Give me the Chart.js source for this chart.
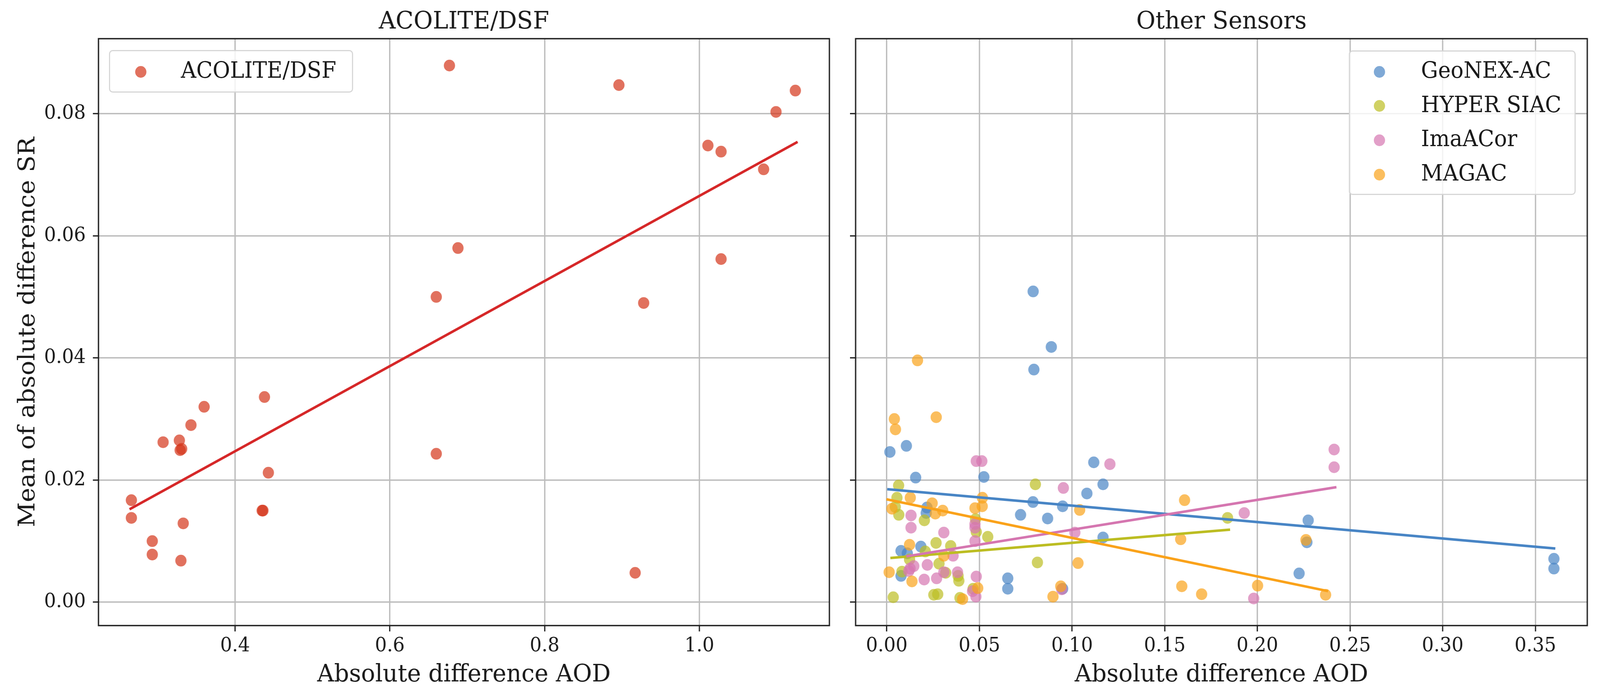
<!DOCTYPE html>
<html>
<head>
<meta charset="utf-8">
<script src="https://cdn.jsdelivr.net/npm/chart.js@4.4.1/dist/chart.umd.min.js"></script>
<style>
  html, body { margin: 0; padding: 0; background: #fff; overflow: hidden; }
  #wrap { position: relative; width: 4273px; height: 1771px; overflow: hidden; background: #fff; transform-origin: 0 0; }
  canvas { position: absolute; top: 0; }
  .legend-box {
    position: absolute; box-sizing: border-box;
    border: 3.5px solid rgba(204, 204, 204, 0.8); border-radius: 10px;
    background: rgba(255, 255, 255, 0.8);
  }
  .legend-dot { position: absolute; width: 30px; height: 30px; border-radius: 50%; }
  .legend-label {
    position: absolute; white-space: nowrap; line-height: 1;
    font-family: 'DejaVu Serif', serif; font-size: 57px; color: #1a1a1a;
  }
</style>
</head>
<body>
<div id="wrap">
  <canvas id="acoliteChart" width="2250" height="1771" style="left:0"></canvas>
  <canvas id="sensorChart" width="2023" height="1771" style="left:2250px"></canvas>
</div>
<script>
// ---- data ----
const srTicks = [0.00, 0.02, 0.04, 0.06, 0.08];
const acoliteAodTicks = [0.4, 0.6, 0.8, 1.0];
const sensorAodTicks = [0.00, 0.05, 0.10, 0.15, 0.20, 0.25, 0.30, 0.35];

const srRange = [-0.00384, 0.0923];
const acoliteAodRange = [0.2235, 1.168];
const sensorAodRange = [-0.0168, 0.378];

// ACOLITE/DSF
const acoliteAod = [0.677, 0.896, 1.124, 1.099, 1.011, 1.028, 1.083, 0.688, 1.028, 0.660,
  0.928, 0.438, 0.360, 0.343, 0.307, 0.328, 0.329, 0.331, 0.660, 0.443,
  0.266, 0.266, 0.435, 0.436, 0.333, 0.293, 0.293, 0.330, 0.917];
const acoliteSr = [0.0879, 0.0847, 0.0838, 0.0803, 0.0748, 0.0738, 0.0709, 0.0580, 0.0562, 0.0500,
  0.0490, 0.0336, 0.0320, 0.0290, 0.0262, 0.0265, 0.0249, 0.0251, 0.0243, 0.0212,
  0.0167, 0.0138, 0.0150, 0.0150, 0.0129, 0.0100, 0.0078, 0.0068, 0.0048];
const acoliteFitAod = [0.265, 1.1255];
const acoliteFitSr = [0.0153, 0.0753];

// GeoNEX-AC
const geonexAod = [0.0017, 0.0106, 0.0156, 0.0524, 0.0789, 0.0949, 0.0217, 0.0213, 0.0722, 0.0868,
  0.0184, 0.0077, 0.0111, 0.0077, 0.0653, 0.0653, 0.0949, 0.0888, 0.0794, 0.0790,
  0.1117, 0.1167, 0.1080, 0.1167, 0.2274, 0.2267, 0.2225, 0.3600, 0.3600];
const geonexSr = [0.0246, 0.0256, 0.0204, 0.0205, 0.0164, 0.0157, 0.0155, 0.0146, 0.0143, 0.0137,
  0.0091, 0.0084, 0.0080, 0.0043, 0.0039, 0.0022, 0.0022, 0.0418, 0.0381, 0.0509,
  0.0229, 0.0193, 0.0178, 0.0106, 0.0134, 0.0098, 0.0047, 0.0071, 0.0055];
const geonexFitAod = [0.0009, 0.3601];
const geonexFitSr = [0.01848, 0.00881];

// HYPER SIAC
const hyperAod = [0.0064, 0.0802, 0.0055, 0.0046, 0.0065, 0.0203, 0.0479, 0.0483, 0.0545, 0.0266,
  0.0345, 0.0208, 0.0123, 0.0813, 0.0282, 0.0082, 0.0318, 0.0385, 0.0389, 0.0035,
  0.0254, 0.0275, 0.0395, 0.0466, 0.1839];
const hyperSr = [0.0191, 0.0193, 0.0171, 0.0156, 0.0143, 0.0134, 0.0136, 0.0115, 0.0107, 0.0097,
  0.0092, 0.0083, 0.0070, 0.0065, 0.0063, 0.0050, 0.0048, 0.0043, 0.0035, 0.0008,
  0.0012, 0.0013, 0.0007, 0.0022, 0.0138];
const hyperFitAod = [0.0026, 0.1846];
const hyperFitSr = [0.00725, 0.01186];

// ImaACor
const imaAod = [0.0483, 0.0513, 0.0953, 0.0131, 0.0476, 0.0476, 0.0131, 0.0308, 0.0476, 0.0358,
  0.0219, 0.0146, 0.0126, 0.0119, 0.0308, 0.0382, 0.0483, 0.0202, 0.0269, 0.0944,
  0.0463, 0.0481, 0.1204, 0.2414, 0.2414, 0.1929, 0.1015, 0.1980];
const imaSr = [0.0231, 0.0231, 0.0187, 0.0142, 0.0128, 0.0122, 0.0122, 0.0114, 0.0100, 0.0076,
  0.0061, 0.0059, 0.0055, 0.0051, 0.0049, 0.0049, 0.0042, 0.0037, 0.0039, 0.0021,
  0.0018, 0.0009, 0.0226, 0.0250, 0.0221, 0.0146, 0.0114, 0.0006];
const imaFitAod = [0.0112, 0.2420];
const imaFitSr = [0.00753, 0.0188];

// MAGAC
const magacAod = [0.0166, 0.0041, 0.0047, 0.0267, 0.0127, 0.0516, 0.0245, 0.0028, 0.0476, 0.0515,
  0.0302, 0.0262, 0.0123, 0.0308, 0.0013, 0.0136, 0.0939, 0.0897, 0.0409, 0.0491,
  0.1041, 0.1607, 0.1586, 0.2262, 0.1032, 0.1592, 0.2001, 0.1699, 0.2368];
const magacSr = [0.0396, 0.0300, 0.0283, 0.0303, 0.0171, 0.0171, 0.0162, 0.0153, 0.0154, 0.0157,
  0.0150, 0.0145, 0.0094, 0.0076, 0.0049, 0.0034, 0.0026, 0.0009, 0.0005, 0.0023,
  0.0151, 0.0167, 0.0103, 0.0102, 0.0064, 0.0026, 0.0027, 0.0013, 0.0012];
const magacFitAod = [0.0005, 0.2375];
const magacFitSr = [0.01681, 0.00184];

// ---- styling ----
const FONT = 'DejaVu Serif';
const TEXT = '#1a1a1a';
const rgba = (c, a) => `rgba(${c[0]},${c[1]},${c[2]},${a})`;
const toPoints = (xs, ys) => xs.map((x, i) => ({ x: x, y: ys[i] }));

const acoliteLineColor = [214, 39, 40];
const acoliteDotColor = [212, 52, 26];

const sensors = [
  { name: 'GeoNEX-AC', aod: geonexAod, sr: geonexSr, fitAod: geonexFitAod, fitSr: geonexFitSr, color: [72, 133, 197] },
  { name: 'HYPER SIAC', aod: hyperAod, sr: hyperSr, fitAod: hyperFitAod, fitSr: hyperFitSr, color: [188, 189, 34] },
  { name: 'ImaACor', aod: imaAod, sr: imaSr, fitAod: imaFitAod, fitSr: imaFitSr, color: [213, 118, 176] },
  { name: 'MAGAC', aod: magacAod, sr: magacSr, fitAod: magacFitAod, fitSr: magacFitSr, color: [250, 162, 26] }
];

// the viewport can be narrower than the 4273px figure, so squeeze the whole figure into it
const wrapEl = document.getElementById('wrap');
const sx = Math.min(1, window.innerWidth / 4273);
const sy = Math.min(1, window.innerHeight / 1771);
wrapEl.style.transform = `scale(${sx}, ${sy})`;

// box around the plot area, drawn on top like the matplotlib spines
const framePlugin = {
  id: 'frame',
  afterDatasetsDraw(chart) {
    const { ctx, chartArea: a } = chart;
    ctx.save();
    ctx.strokeStyle = '#222';
    ctx.lineWidth = 3.5;
    ctx.strokeRect(a.left, a.top, a.right - a.left, a.bottom - a.top);
    ctx.restore();
  }
};

// panel title centred over the plot area (not the canvas)
const panelTitle = (text) => ({
  id: 'panelTitle',
  afterDraw(chart) {
    const { ctx, chartArea: a } = chart;
    ctx.save();
    ctx.font = `62.5px "${FONT}"`;
    ctx.fillStyle = TEXT;
    ctx.textAlign = 'center';
    ctx.textBaseline = 'alphabetic';
    ctx.fillText(text, (a.left + a.right) / 2, 73);
    ctx.restore();
  }
});

const gridOpts = {
  color: '#bcbcbc',
  lineWidth: 3.5,
  drawTicks: true,
  tickLength: 15,
  tickColor: '#222',
  tickWidth: 3.3
};

function xScale(range, ticks, digits) {
  return {
    type: 'linear',
    min: range[0],
    max: range[1],
    afterBuildTicks: (s) => { s.ticks = ticks.map(v => ({ value: v })); },
    afterFit: (s) => { s.height = 170; },
    grid: gridOpts,
    border: { display: false },
    ticks: {
      font: { family: FONT, size: 50 },
      color: TEXT,
      padding: 8,
      maxRotation: 0,
      autoSkip: false,
      callback: (v) => Number(v).toFixed(digits)
    },
    title: {
      display: true,
      text: 'Absolute difference AOD',
      font: { family: FONT, size: 62.5 },
      color: TEXT,
      padding: { top: 0, bottom: 6 }
    }
  };
}

function yScale(width, showLabels) {
  return {
    type: 'linear',
    min: srRange[0],
    max: srRange[1],
    afterBuildTicks: (s) => { s.ticks = srTicks.map(v => ({ value: v })); },
    afterFit: (s) => { s.width = width; },
    grid: gridOpts,
    border: { display: false },
    ticks: {
      display: showLabels,
      font: { family: FONT, size: 50 },
      color: TEXT,
      padding: 19,
      autoSkip: false,
      callback: (v) => Number(v).toFixed(2)
    },
    title: {
      display: showLabels,
      text: 'Mean of absolute difference SR',
      font: { family: FONT, size: 62.5 },
      color: TEXT,
      padding: { top: 38, bottom: 0 }
    }
  };
}

function baseOptions(padRight) {
  return {
    responsive: false,
    animation: false,
    devicePixelRatio: 1,
    events: [],
    layout: { padding: { top: 99, right: padRight, bottom: 0, left: 0 } },
    plugins: {
      legend: { display: false },
      tooltip: { enabled: false }
    }
  };
}

// ---- left panel: ACOLITE/DSF ----
const leftOpts = baseOptions(35);
leftOpts.scales = {
  x: xScale(acoliteAodRange, acoliteAodTicks, 1),
  y: yScale(263, true)
};

new Chart(document.getElementById('acoliteChart'), {
  type: 'scatter',
  data: {
    datasets: [
      {
        label: 'fit',
        data: toPoints(acoliteFitAod, acoliteFitSr),
        showLine: true,
        borderColor: rgba(acoliteLineColor, 1),
        borderWidth: 6.5,
        borderCapStyle: 'square',
        pointRadius: 0,
        order: 0
      },
      {
        label: 'ACOLITE/DSF',
        data: toPoints(acoliteAod, acoliteSr),
        backgroundColor: rgba(acoliteDotColor, 0.7),
        borderWidth: 0,
        pointRadius: 15,
        order: 1
      }
    ]
  },
  options: leftOpts,
  plugins: [framePlugin, panelTitle('ACOLITE/DSF')]
});

// ---- right panel: other sensors ----
const rightOpts = baseOptions(34);
rightOpts.scales = {
  x: xScale(sensorAodRange, sensorAodTicks, 2),
  y: yScale(35, false)
};

const sensorSets = [];
sensors.forEach((s, i) => {
  sensorSets.push({
    label: s.name,
    data: toPoints(s.aod, s.sr),
    backgroundColor: rgba(s.color, 0.7),
    borderWidth: 0,
    pointRadius: 15,
    order: 13 - i
  });
  sensorSets.push({
    label: s.name + ' fit',
    data: toPoints(s.fitAod, s.fitSr),
    showLine: true,
    borderColor: rgba(s.color, 1),
    borderWidth: 6.5,
    borderCapStyle: 'square',
    pointRadius: 0,
    order: 3 - i
  });
});

new Chart(document.getElementById('sensorChart'), {
  type: 'scatter',
  data: { datasets: sensorSets },
  options: rightOpts,
  plugins: [framePlugin, panelTitle('Other Sensors')]
});

// ---- legends (matplotlib-style framed boxes) ----
function addLegend(box, items, dotX, textX, firstY, step) {
  const frame = document.createElement('div');
  frame.className = 'legend-box';
  Object.assign(frame.style, {
    left: box[0] + 'px', top: box[1] + 'px', width: box[2] + 'px', height: box[3] + 'px'
  });
  wrapEl.appendChild(frame);
  items.forEach((it, i) => {
    const cy = firstY + i * step;
    const dot = document.createElement('div');
    dot.className = 'legend-dot';
    Object.assign(dot.style, { left: (dotX - 15) + 'px', top: (cy - 15) + 'px', background: it.color });
    wrapEl.appendChild(dot);
    const label = document.createElement('div');
    label.className = 'legend-label';
    label.textContent = it.name;
    // baseline sits ~15.6px below the marker centre; 48.2px is the baseline offset at line-height 1
    Object.assign(label.style, { left: textX + 'px', top: (cy + 15.6 - 48.2) + 'px' });
    wrapEl.appendChild(label);
  });
}

addLegend([291, 128, 652, 109],
  [{ name: 'ACOLITE/DSF', color: rgba(acoliteDotColor, 0.7) }],
  376, 483, 183.7, 0);

addLegend([3602, 129, 606, 370],
  sensors.map(s => ({ name: s.name, color: rgba(s.color, 0.7) })),
  3684, 3795, 183.7, 87.6);
</script>
</body>
</html>
